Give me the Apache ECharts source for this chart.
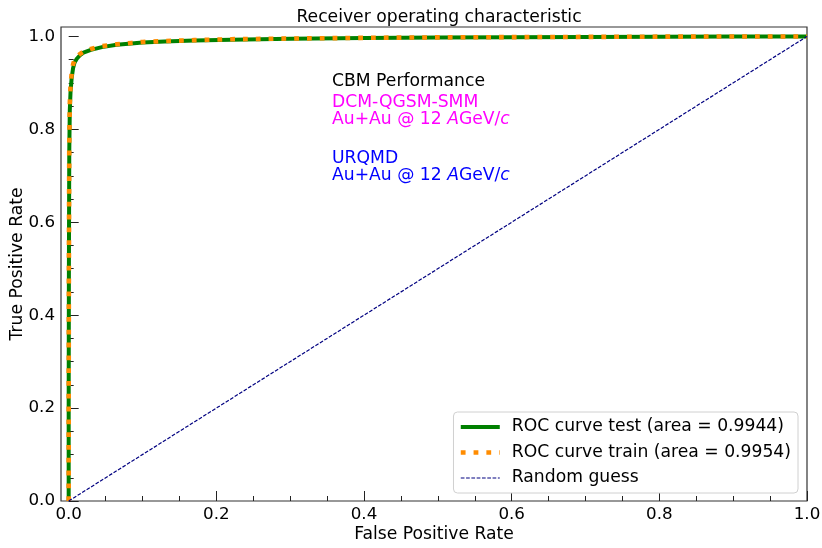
<!DOCTYPE html>
<html>
<head>
<meta charset="utf-8">
<script src="https://cdn.jsdelivr.net/npm/echarts@6/dist/echarts.min.js"></script>
<style>
  html, body { margin: 0; padding: 0; background: #fff; }
  #chart { width: 822px; height: 548px; }
</style>
</head>
<body>
<div id="chart"></div>
<script>
// ROC curve values
const fprTest = [0, 0, 0.0003, 0.0008, 0.0015, 0.0025, 0.004, 0.006, 0.008, 0.011, 0.015, 0.02, 0.03, 0.045, 0.065, 0.085, 0.1, 0.13, 0.17, 0.22, 0.3, 0.4, 0.5, 0.6, 0.7, 0.8, 0.9, 1.0];
const tprTest = [0, 0.2, 0.5, 0.75, 0.84, 0.88, 0.91, 0.932, 0.944, 0.952, 0.959, 0.965, 0.971, 0.977, 0.982, 0.985, 0.987, 0.989, 0.991, 0.993, 0.995, 0.9965, 0.9975, 0.9982, 0.999, 0.9994, 0.9997, 1.0];
const fprTrain = [0, 0, 0.0003, 0.0008, 0.0015, 0.0025, 0.004, 0.006, 0.008, 0.011, 0.015, 0.02, 0.03, 0.045, 0.065, 0.085, 0.1, 0.13, 0.17, 0.22, 0.3, 0.4, 0.5, 0.6, 0.7, 0.8, 0.9, 1.0];
const tprTrain = [0, 0.2, 0.52, 0.77, 0.855, 0.893, 0.92, 0.94, 0.95, 0.956, 0.962, 0.967, 0.973, 0.979, 0.983, 0.986, 0.988, 0.99, 0.992, 0.994, 0.9955, 0.997, 0.998, 0.9985, 0.999, 0.9995, 0.9998, 1.0];
const guessX = [0, 1];
const guessY = [0, 1];

const majorTicks = [0, 0.2, 0.4, 0.6, 0.8, 1.0];
const minorTicks = [0.05, 0.1, 0.15, 0.25, 0.3, 0.35, 0.45, 0.5, 0.55, 0.65, 0.7, 0.75, 0.85, 0.9, 0.95];

const seriesNames = ['ROC curve test (area = 0.9944)', 'ROC curve train (area = 0.9954)', 'Random guess'];

const pairs = (xs, ys) => xs.map((x, i) => [x, ys[i]]);
const FONT = 'DejaVu Sans';
const TXT = 17.2;

const chart = echarts.init(document.getElementById('chart'));

const baseAxis = {
  type: 'value',
  splitLine: { show: false },
  axisLine: { show: false }
};
const labelStyle = { color: '#000', fontFamily: FONT, fontSize: 16.7 };

// line styles shared between series and legend
const testLine = { color: '#008000', width: 4 };
const trainLine = { color: '#ff8c00', width: 4.6, type: [4.8, 8], cap: 'butt' };
const guessLine = { color: '#000080', width: 1.2, type: [3.7, 1.6] };
const hidden = { color: 'rgba(0,0,0,0)', borderWidth: 0 };

const option = {
  animation: false,
  textStyle: { fontFamily: FONT },
  title: {
    text: 'Receiver operating characteristic',
    left: 434,
    textAlign: 'center',
    top: 4,
    textStyle: { fontFamily: FONT, fontSize: TXT, fontWeight: 'normal', color: '#000' }
  },
  grid: {
    left: 61, right: 15, top: 27, bottom: 47,
    outerBoundsMode: 'none',
    show: true, borderColor: '#333', borderWidth: 1.2
  },
  legend: {
    orient: 'vertical',
    right: 24,
    bottom: 55,
    itemWidth: 39,
    itemHeight: 20,
    itemGap: 5.5,
    padding: [5, 7, 5, 5],
    borderColor: '#d0d0d0',
    borderWidth: 1,
    borderRadius: 4,
    backgroundColor: '#fff',
    data: [
      { name: seriesNames[0], lineStyle: testLine, itemStyle: hidden },
      { name: seriesNames[1], lineStyle: trainLine, itemStyle: hidden },
      { name: seriesNames[2], lineStyle: guessLine, itemStyle: hidden }
    ],
    textStyle: { fontFamily: FONT, fontSize: TXT, color: '#000', lineHeight: 20, padding: [0, 0, 0, 7] }
  },
  xAxis: [
    Object.assign({}, baseAxis, {
      min: -0.0104, max: 1.0,
      name: 'False Positive Rate',
      nameLocation: 'middle',
      nameGap: 25,
      nameMoveOverlap: false,
      nameTextStyle: { fontFamily: FONT, fontSize: TXT, color: '#000' },
      axisTick: { inside: true, length: 10, customValues: majorTicks, lineStyle: { color: '#222' } },
      axisLabel: Object.assign({ customValues: majorTicks, margin: 5, formatter: v => v.toFixed(1) }, labelStyle)
    }),
    Object.assign({}, baseAxis, {
      min: -0.0104, max: 1.0,
      position: 'bottom',
      axisTick: { inside: true, length: 5, customValues: minorTicks, lineStyle: { color: '#222' } },
      axisLabel: { show: false }
    })
  ],
  yAxis: [
    Object.assign({}, baseAxis, {
      min: 0, max: 1.0203,
      name: 'True Positive Rate',
      nameLocation: 'middle',
      nameGap: 35,
      nameMoveOverlap: false,
      nameTextStyle: { fontFamily: FONT, fontSize: TXT, color: '#000' },
      axisTick: { inside: true, length: 10, customValues: majorTicks, lineStyle: { color: '#222' } },
      axisLabel: Object.assign({ customValues: majorTicks, margin: 6, formatter: v => v.toFixed(1) }, labelStyle)
    }),
    Object.assign({}, baseAxis, {
      min: 0, max: 1.0203,
      position: 'left',
      axisTick: { inside: true, length: 5, customValues: minorTicks, lineStyle: { color: '#222' } },
      axisLabel: { show: false }
    })
  ],
  graphic: [
    {
      type: 'text', left: 332, top: 73.5,
      style: { text: 'CBM Performance', fill: '#000', font: TXT + 'px "DejaVu Sans"' }
    },
    {
      type: 'text', left: 332, top: 94.5,
      style: {
        text: '{n|DCM-QGSM-SMM}\n{n|Au+Au @ 12 }{i|A}{n|GeV/}{i|c}',
        fill: '#ff00ff',
        rich: {
          n: { fontFamily: FONT, fontSize: TXT, lineHeight: 16.5, fill: '#ff00ff' },
          i: { fontFamily: FONT, fontSize: TXT, lineHeight: 16.5, fontStyle: 'italic', fill: '#ff00ff' }
        }
      }
    },
    {
      type: 'text', left: 332, top: 150.5,
      style: {
        text: '{n|URQMD}\n{n|Au+Au @ 12 }{i|A}{n|GeV/}{i|c}',
        fill: '#0000ff',
        rich: {
          n: { fontFamily: FONT, fontSize: TXT, lineHeight: 16.5, fill: '#0000ff' },
          i: { fontFamily: FONT, fontSize: TXT, lineHeight: 16.5, fontStyle: 'italic', fill: '#0000ff' }
        }
      }
    }
  ],
  series: [
    {
      name: seriesNames[0],
      type: 'line',
      symbol: 'none',
      data: pairs(fprTest, tprTest),
      lineStyle: testLine,
      itemStyle: { color: '#008000' },
      z: 2
    },
    {
      name: seriesNames[1],
      type: 'line',
      symbol: 'none',
      data: pairs(fprTrain, tprTrain),
      lineStyle: trainLine,
      itemStyle: { color: '#ff8c00' },
      z: 3
    },
    {
      name: seriesNames[2],
      type: 'line',
      symbol: 'none',
      data: pairs(guessX, guessY),
      lineStyle: guessLine,
      itemStyle: { color: '#000080' },
      z: 4
    }
  ]
};

chart.setOption(option);
</script>
</body>
</html>
